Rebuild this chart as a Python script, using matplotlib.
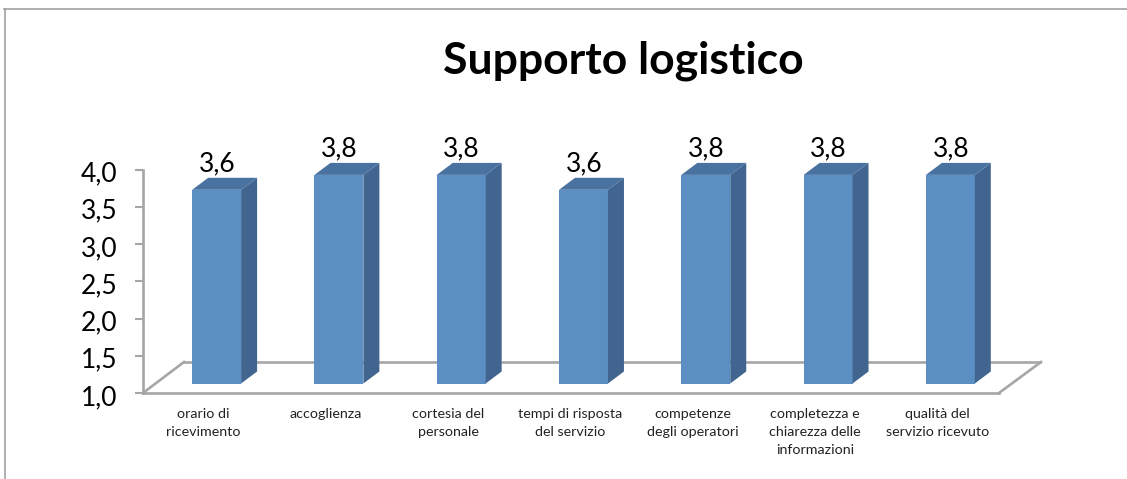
import matplotlib
matplotlib.use("Agg")
import matplotlib.pyplot as plt
from matplotlib.lines import Line2D
from matplotlib.patches import Polygon
from matplotlib.transforms import Affine2D

categories = ["orario di\nricevimento", "accoglienza", "cortesia del\npersonale",
              "tempi di risposta\ndel servizio", "competenze\ndegli operatori",
              "completezza e\nchiarezza delle\ninformazioni", "qualità del\nservizio ricevuto"]
values = [3.6, 3.8, 3.8, 3.6, 3.8, 3.8, 3.8]
yticks = [1.0, 1.5, 2.0, 2.5, 3.0, 3.5, 4.0]
title = "Supporto logistico"

W, H = 1127, 479
plt.rcParams['font.family'] = ['Lato', 'DejaVu Sans']
fig = plt.figure(figsize=(W / 100, H / 100), dpi=100)
L, R, T, B = 143, 999, 169.5, 393
ax = fig.add_axes([L / W, 1 - B / H, (R - L) / W, (B - T) / H])
ax.set_xlim(-0.5, 6.5)
ax.set_ylim(1, 4)
GRAY = "#A6A6A6"
for s in ("top", "right"):
    ax.spines[s].set_visible(False)
for s in ("left", "bottom"):
    ax.spines[s].set_color(GRAY)
    ax.spines[s].set_linewidth(1.9)
ax.set_yticks(yticks)
ax.set_yticklabels([f"{v:.1f}".replace(".", ",") for v in yticks], fontsize=19, color="black")
ax.tick_params(axis="y", length=6, width=1.5, color=GRAY, pad=12.5)
ax.set_xticks(range(7))
ax.set_xticklabels([])
ax.tick_params(axis="x", length=0)
for lab in ax.get_yticklabels():
    lab.set_transform(lab.get_transform() + Affine2D().translate(0, -2))

# floor of the 3D box
back = ax.transData + Affine2D().translate(41, 31)
ax.plot([-0.5, 6.5], [1, 1], color=GRAY, lw=1.9, transform=back, clip_on=False, zorder=1)
fig.add_artist(Line2D([L / W, 184 / W], [1 - B / H, 1 - 362 / H], color=GRAY, lw=1.9))
fig.add_artist(Line2D([R / W, 1041 / W], [1 - B / H, 1 - 362 / H], color=GRAY, lw=1.9))

# bars: front plane shifted into the box, top and side faces extruded
front = ax.transData + Affine2D().translate(12.5, 9.5)
depth = ax.transData + Affine2D().translate(12.5 + 16, 9.5 + 12)
FRONT, SIDE, TOP = "#5B8FC4", "#41658F", "#4A72A0"
bw = 0.4
for i, v in enumerate(values):
    x0, x1 = i - bw / 2, i + bw / 2
    ax.bar(i, v - 1, bottom=1, width=bw, color=FRONT, transform=front, clip_on=False, zorder=3)
    ax.add_patch(Polygon([*front.transform([(x1, 1), (x1, v)]), *depth.transform([(x1, v), (x1, 1)])],
                         closed=True, facecolor=SIDE, edgecolor="none",
                         transform=Affine2D(), clip_on=False, zorder=3))
    ax.add_patch(Polygon([*front.transform([(x1, v), (x0, v)]), *depth.transform([(x0, v), (x1, v)])],
                         closed=True, facecolor=TOP, edgecolor="none",
                         transform=Affine2D(), clip_on=False, zorder=3))
    ax.annotate(f"{v:.1f}".replace(".", ","), xy=(i, v), xycoords=depth,
                xytext=(-11.2, 1), textcoords="offset points", ha="center", va="bottom",
                fontsize=19, color="black", annotation_clip=False, zorder=4)
    ax.annotate(categories[i], xy=(i, 1), xycoords=ax.transData, xytext=(-0.5, -11),
                textcoords="offset points", ha="center", va="top", fontsize=10.3,
                linespacing=1.58, color="#222222", annotation_clip=False)

fig.text(623 / W, 1 - 61 / H, title, fontsize=32, fontweight="bold", ha="center", va="center")

# outer frame of the chart area
fig.add_artist(Line2D([4.5 / W, 4.5 / W], [0, 1 - 9 / H], color="#9A9A9A", lw=1.1))
fig.add_artist(Line2D([4 / W, 1], [1 - 9 / H, 1 - 9 / H], color="#9A9A9A", lw=1.1))

fig.savefig("out.png", dpi=100)
